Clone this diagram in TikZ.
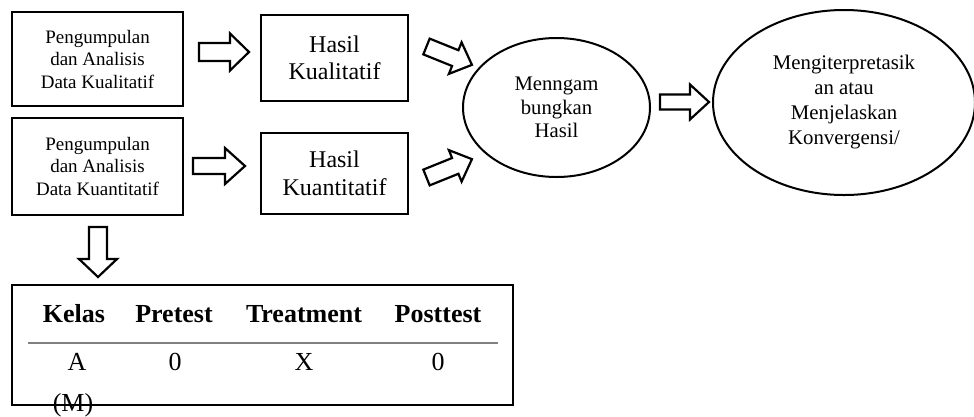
\documentclass[tikz,border=0pt]{standalone}
\usepackage{fontspec}
\setmainfont{Liberation Serif}
\usetikzlibrary{shapes.geometric}
\tikzset{
  box/.style={draw, line width=2pt, rectangle, inner sep=0pt, align=center},
  oval/.style={draw, line width=2pt, ellipse, inner sep=0pt, align=center},
  barrow/.style={draw, line width=2.2pt, fill=white, line join=miter},
  th/.style={anchor=base, font=\fontsize{26}{30}\selectfont\bfseries},
  td/.style={anchor=base, font=\fontsize{26}{30}\selectfont},
}
% block arrow: #1 tail point, #2 angle, #3 length, #4 shaft half width, #5 head half width, #6 head length
\newcommand{\blockarr}[6]{%
  \begin{scope}[shift={#1}, rotate=#2]
    \draw[barrow] (0,-#4) -- ({#3-#6},-#4) -- ({#3-#6},-#5) -- (#3,0) -- ({#3-#6},#5) -- ({#3-#6},#4) -- (0,#4) -- cycle;
  \end{scope}}
\begin{document}
\begin{tikzpicture}[x=1pt, y=-1pt]
\clip (0,0) rectangle (974,416);
\fill[white] (0,0) rectangle (974,416);

\node[box, minimum width=171pt, minimum height=94pt, font=\fontsize{19}{22.5}\selectfont] (p1) at (97.5,59) {Pengumpulan\\dan Analisis\\Data Kualitatif};
\node[box, minimum width=171pt, minimum height=97pt, font=\fontsize{19}{22.5}\selectfont] (p2) at (97.5,166) {Pengumpulan\\dan Analisis\\Data Kuantitatif};
\node[box, minimum width=147pt, minimum height=86pt, font=\fontsize{24}{27.5}\selectfont] (h1) at (334.5,58) {Hasil\\Kualitatif};
\node[box, minimum width=147pt, minimum height=81pt, font=\fontsize{24}{27.5}\selectfont] (h2) at (334.5,173.5) {Hasil\\Kuantitatif};
\node[oval, minimum width=187pt, minimum height=139pt, font=\fontsize{20.7}{23.5}\selectfont] (m) at (556.5,107.5) {Menngam\\bungkan\\Hasil};
\node[oval, minimum width=262pt, minimum height=185pt, font=\fontsize{20.8}{25}\selectfont] (k) at (844,102.5) {Mengiterpretasik\\an atau\\Menjelaskan\\Konvergensi/};

% block arrows
\blockarr{(199,52)}{0}{50}{9}{18.5}{19}
\blockarr{(193,166)}{0}{52}{8}{18}{20}
\blockarr{(426.5,46.5)}{-22}{49}{8.5}{17}{18}
\blockarr{(426.5,177.5)}{22}{49}{8.5}{17}{18}
\blockarr{(660,102)}{0}{49}{7.5}{17.5}{19}
\blockarr{(98,227)}{-90}{50}{9}{19}{18}

% table
\node[box, minimum width=501pt, minimum height=120pt] (tab) at (262.5,345) {};
\draw[line width=1.5pt, gray] (28,343) coordinate (la) -- (498,343) coordinate (lb);
\node[th] (c1) at (74,322) {Kelas};
\node[th] (c2) at (174,322) {Pretest};
\node[th] (c3) at (304,322) {Treatment};
\node[th] (c4) at (438,322) {Posttest};
\node[td] (r1) at (77,370) {A};
\node[td] (r2) at (175,370) {0};
\node[td] (r3) at (304,370) {X};
\node[td] (r4) at (438,370) {0};
\node[td] (r5) at (73,411) {(M)};
\end{tikzpicture}
\end{document}
